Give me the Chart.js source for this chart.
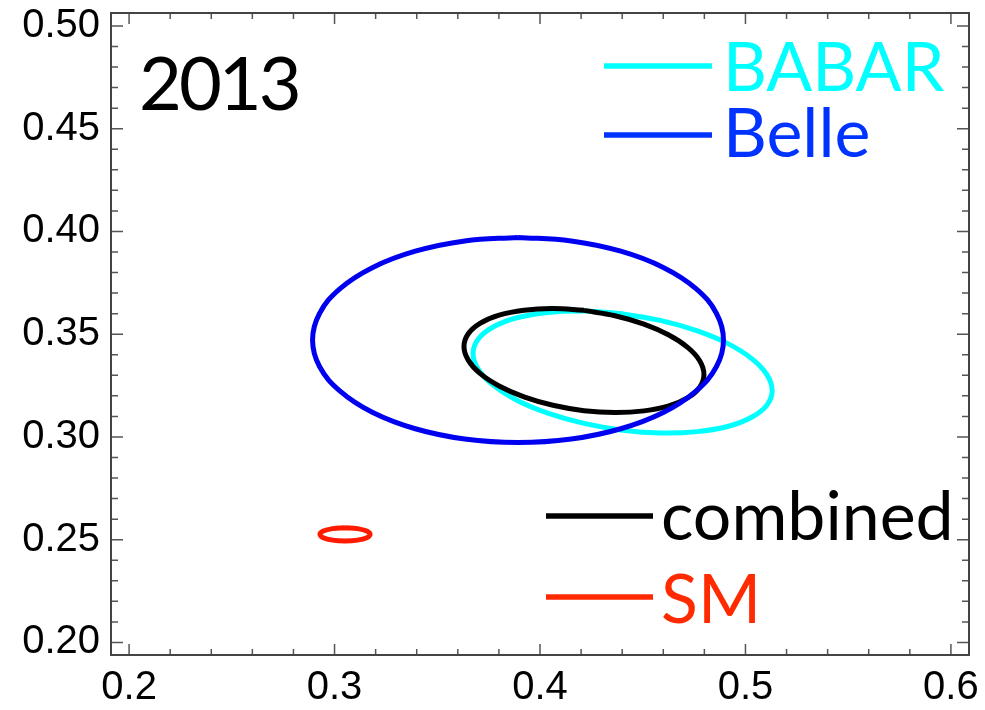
<!DOCTYPE html>
<html>
<head>
<meta charset="utf-8">
<script src="https://cdn.jsdelivr.net/npm/chart.js@4.4.1/dist/chart.umd.min.js"></script>
<style>
  html, body { margin: 0; padding: 0; background: #fff; }
  #wrap { width: 985px; height: 710px; }
</style>
</head>
<body>
<div id="wrap"><canvas id="chart" width="985" height="710"></canvas></div>
<script>
// axis tick labels
const xTicks = [0.2, 0.3, 0.4, 0.5, 0.6];
const yTicks = [0.20, 0.25, 0.30, 0.35, 0.40, 0.45, 0.50];

// contours, each ring starts and ends at its top
const babarX = [0.4402, 0.4214, 0.4038, 0.3887, 0.3772, 0.3699, 0.3674, 0.3699, 0.3772, 0.3887, 0.4038, 0.4214, 0.4402,
                0.4590, 0.4766, 0.4917, 0.5032, 0.5105, 0.5130, 0.5105, 0.5032, 0.4917, 0.4766, 0.4590, 0.4402];
const babarY = [0.3599, 0.3613, 0.3606, 0.3580, 0.3535, 0.3476, 0.3406, 0.3330, 0.3252, 0.3179, 0.3116, 0.3066, 0.3033,
                0.3019, 0.3026, 0.3052, 0.3097, 0.3156, 0.3226, 0.3302, 0.3380, 0.3453, 0.3516, 0.3566, 0.3599];

const belleX = [0.3893, 0.3634, 0.3393, 0.3186, 0.3027, 0.2927, 0.2893, 0.2927, 0.3027, 0.3186, 0.3393, 0.3634, 0.3893,
                0.4152, 0.4393, 0.4600, 0.4759, 0.4859, 0.4893, 0.4859, 0.4759, 0.4600, 0.4393, 0.4152, 0.3893];
const belleY = [0.3971, 0.3954, 0.3904, 0.3825, 0.3722, 0.3601, 0.3472, 0.3343, 0.3223, 0.3119, 0.3040, 0.2990, 0.2973,
                0.2990, 0.3040, 0.3119, 0.3223, 0.3343, 0.3472, 0.3601, 0.3722, 0.3825, 0.3904, 0.3954, 0.3971];

const combinedX = [0.4214, 0.4063, 0.3922, 0.3801, 0.3708, 0.3650, 0.3630, 0.3650, 0.3708, 0.3801, 0.3922, 0.4063, 0.4214,
                   0.4365, 0.4506, 0.4627, 0.4720, 0.4778, 0.4798, 0.4778, 0.4720, 0.4627, 0.4506, 0.4365, 0.4214];
const combinedY = [0.3616, 0.3625, 0.3617, 0.3593, 0.3553, 0.3501, 0.3440, 0.3375, 0.3309, 0.3248, 0.3195, 0.3154, 0.3128,
                   0.3119, 0.3127, 0.3151, 0.3191, 0.3243, 0.3304, 0.3370, 0.3435, 0.3496, 0.3549, 0.3590, 0.3616];

const smX = [0.3051, 0.2990, 0.2945, 0.2929, 0.2945, 0.2990, 0.3051, 0.3112, 0.3157, 0.3173, 0.3157, 0.3112, 0.3051];
const smY = [0.2558, 0.2554, 0.2542, 0.2526, 0.2510, 0.2498, 0.2494, 0.2498, 0.2510, 0.2526, 0.2542, 0.2554, 0.2558];

const toPoints = (xs, ys) => xs.map((x, i) => ({ x, y: ys[i] }));

const ring = (label, xs, ys, color, order) => ({
    label,
    data: toPoints(xs, ys),
    showLine: true,
    borderColor: color,
    backgroundColor: color,
    borderWidth: 5,
    pointRadius: 0,
    tension: 0.4,
    fill: false,
    order,
});

// inward ticks on all four sides plus the frame
const frameTicks = {
    id: 'frameTicks',
    afterDatasetsDraw(chart) {
        const { ctx, chartArea: a, scales: { x, y } } = chart;
        ctx.save();
        ctx.strokeStyle = '#555';
        ctx.lineWidth = 1.5;
        for (let i = 0; i <= 20; i++) {
            const v = 0.2 + i * 0.02;
            const px = x.getPixelForValue(v);
            const len = i % 5 === 0 ? 11 : 6;
            ctx.beginPath();
            ctx.moveTo(px, a.bottom); ctx.lineTo(px, a.bottom - len);
            ctx.moveTo(px, a.top); ctx.lineTo(px, a.top + len);
            ctx.stroke();
        }
        for (let i = 0; i <= 30; i++) {
            const v = 0.2 + i * 0.01;
            const py = y.getPixelForValue(v);
            const len = i % 5 === 0 ? 12 : 7;
            ctx.beginPath();
            ctx.moveTo(a.left, py); ctx.lineTo(a.left + len, py);
            ctx.moveTo(a.right, py); ctx.lineTo(a.right - len, py);
            ctx.stroke();
        }
        ctx.strokeStyle = '#444';
        ctx.lineWidth = 2;
        ctx.strokeRect(a.left, a.top, a.right - a.left, a.bottom - a.top);
        ctx.restore();
    },
};

// year tag and the hand-placed legend
const labels = {
    id: 'labels',
    afterDraw(chart) {
        const { ctx } = chart;
        ctx.save();
        ctx.textBaseline = 'alphabetic';
        ctx.textAlign = 'left';
        ctx.font = '74px Lato';
        ctx.fillStyle = '#000';
        ctx.letterSpacing = '-3px';
        ctx.fillText('2013', 139, 110);
        ctx.letterSpacing = '0px';

        const entries = [
            { text: 'BABAR', color: '#00ffff', line: '#00ffff', x0: 604, x1: 712, ly: 66, tx: 723, ty: 91 },
            { text: 'Belle', color: '#0033ff', line: '#0033ff', x0: 604, x1: 712, ly: 135, tx: 723, ty: 157 },
            { text: 'combined', color: '#000000', line: '#000000', x0: 546, x1: 653, ly: 516, tx: 661, ty: 540 },
            { text: 'SM', color: '#ff2a00', line: '#ff2a00', x0: 546, x1: 653, ly: 597, tx: 661, ty: 623 },
        ];
        ctx.font = '68px Lato';
        entries.forEach(e => {
            ctx.strokeStyle = e.line;
            ctx.lineWidth = 5.5;
            ctx.beginPath();
            ctx.moveTo(e.x0, e.ly);
            ctx.lineTo(e.x1, e.ly);
            ctx.stroke();
            ctx.fillStyle = e.color;
            ctx.fillText(e.text, e.tx, e.ty);
        });
        ctx.restore();
    },
};

const tickFont = { family: '"Liberation Sans", Arial, sans-serif', size: 40 };

new Chart(document.getElementById('chart'), {
    type: 'scatter',
    data: {
        datasets: [
            ring('BABAR', babarX, babarY, '#00ffff', 3),
            ring('Belle', belleX, belleY, '#0000f0', 1),
            ring('combined', combinedX, combinedY, '#000000', 2),
            ring('SM', smX, smY, '#ff1a00', 0),
        ],
    },
    options: {
        responsive: false,
        animation: false,
        devicePixelRatio: 1,
        layout: { padding: { top: 13, right: 16, left: 0, bottom: 0 } },
        plugins: { legend: { display: false }, tooltip: { enabled: false } },
        scales: {
            x: {
                type: 'linear',
                min: 0.1912,
                max: 0.6088,
                afterBuildTicks: s => { s.ticks = xTicks.map(v => ({ value: v })); },
                afterFit: s => {
                    s.height = 55;
                    s.paddingLeft = 0; s.paddingRight = 0; s.paddingTop = 0; s.paddingBottom = 0;
                },
                grid: { display: false, drawTicks: false },
                border: { display: false },
                ticks: {
                    font: tickFont,
                    color: '#000',
                    padding: 9,
                    maxRotation: 0,
                    autoSkip: false,
                    callback: v => Number(v).toFixed(1),
                },
            },
            y: {
                type: 'linear',
                min: 0.1939,
                max: 0.5063,
                afterBuildTicks: s => { s.ticks = yTicks.map(v => ({ value: v })); },
                afterFit: s => {
                    s.width = 111;
                    s.paddingLeft = 0; s.paddingRight = 0; s.paddingTop = 0; s.paddingBottom = 0;
                },
                grid: { display: false, drawTicks: false },
                border: { display: false },
                ticks: {
                    font: tickFont,
                    color: '#000',
                    padding: 11,
                    autoSkip: false,
                    callback: v => Number(v).toFixed(2),
                },
            },
        },
    },
    plugins: [frameTicks, labels],
});
</script>
</body>
</html>
